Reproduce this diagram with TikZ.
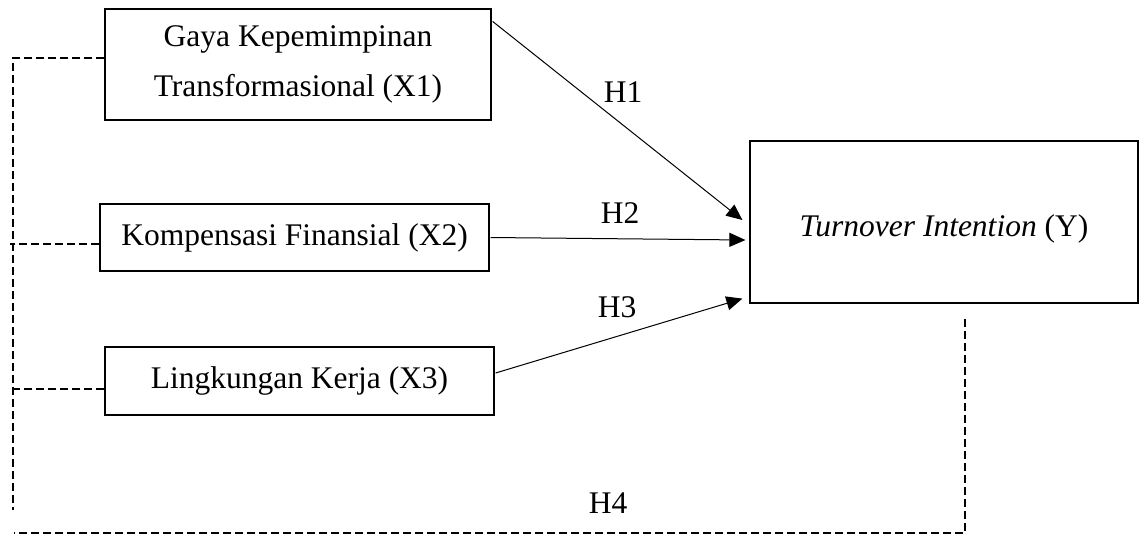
\documentclass[tikz,border=0pt]{standalone}
\usepackage{fontspec}
\setmainfont{Liberation Serif}
\usetikzlibrary{arrows.meta}
\tikzset{
  box/.style={draw, line width=1.2pt, inner sep=0pt, align=center, font=\fontsize{31.5}{50}\selectfont},
  arr/.style={line width=1pt, -{Triangle[length=16pt,width=14pt]}},
  dsh/.style={line width=1.7pt, dash pattern=on 8pt off 4pt},
  lbl/.style={font=\fontsize{31.5}{36}\selectfont, inner sep=0pt}
}
\begin{document}
\begin{tikzpicture}[x=1pt,y=-1pt]
\useasboundingbox (0,0) rectangle (1139,536);
\node[box, minimum width=386pt, minimum height=111pt] (x1) at (298,64.5) {Gaya Kepemimpinan\\Transformasional (X1)};
\node[box, minimum width=389pt, minimum height=67pt] (x2) at (294.5,237.5) {Kompensasi Finansial (X2)};
\node[box, minimum width=389pt, minimum height=68pt] (x3) at (299.5,381) {Lingkungan Kerja (X3)};
\node[box, minimum width=388pt, minimum height=162pt] (y) at (944,222) {};
\node[lbl] (yt) at (944,229) {\textit{Turnover Intention} (Y)};

\draw[arr] ([shift={(1pt,-13pt)}]x1.north east) -- ([shift={(-7pt,2pt)}]y.west);
\draw[arr] ([xshift=1pt]x2.east) -- ([shift={(-4pt,-18pt)}]y.west);
\draw[arr] ([shift={(1pt,8pt)}]x3.east) -- ([shift={(-7pt,5pt)}]y.south west);

\node[lbl] (h1) at (623,92) {H1};
\node[lbl] (h2) at (620,213) {H2};
\node[lbl] (h3) at (617,307) {H3};
\node[lbl] (h4) at (608,503) {H4};

\coordinate (lt) at (13,58);
\coordinate (lb) at (13,510);
\coordinate (l2) at (10,244);
\coordinate (l3) at (13,389);
\coordinate (rb) at (965,533);
\coordinate (bl) at (14,533);
\draw[dsh] ([yshift=6.5pt]x1.west) -- (lt) -- (lb);
\draw[dsh] ([yshift=-6.5pt]x2.west) -- (l2);
\draw[dsh] ([yshift=-8pt]x3.west) -- (l3);
\draw[dsh] ([shift={(21pt,-15pt)}]y.south) -- (rb) -- (bl);
\end{tikzpicture}
\end{document}
